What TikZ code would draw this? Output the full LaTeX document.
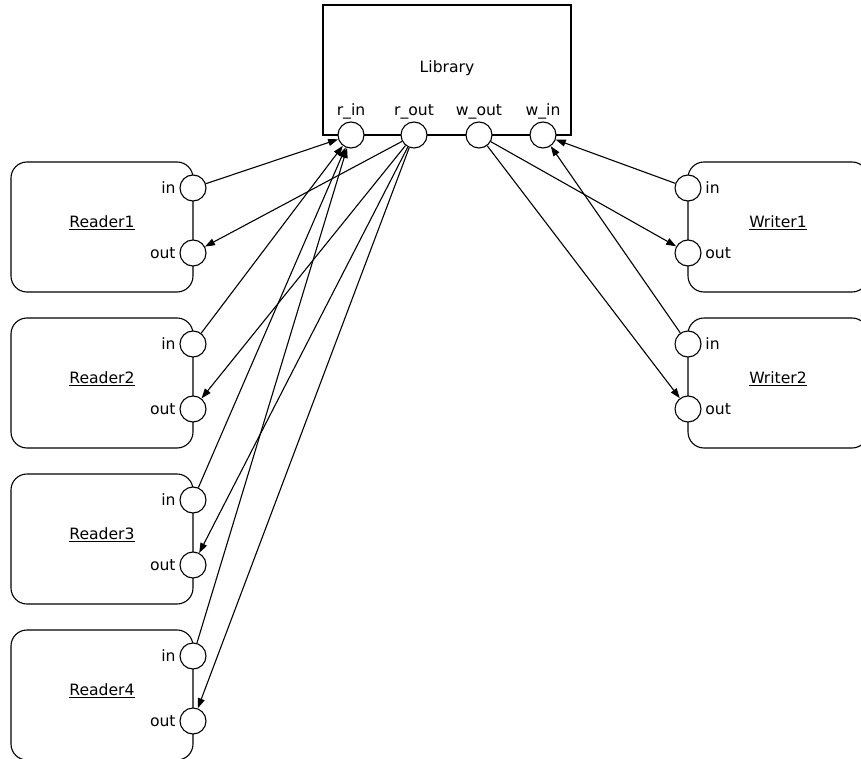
\documentclass[tikz,border=0pt]{standalone}
\usepackage{fontspec}
\setmainfont{DejaVu Sans}
\usetikzlibrary{arrows.meta}
\newcommand\ulabel[1]{\setbox0=\hbox{#1}\vtop{\copy0\kern1pt\hrule height 1.8pt width \wd0}}
\tikzset{
  port/.style={draw,circle,fill=white,minimum size=26pt,inner sep=0pt},
  box/.style={draw,rounded corners=16pt}
}
\begin{document}
\begin{tikzpicture}[x=1pt,y=-1pt,>={Triangle[length=10pt,width=7pt]},line width=1.1pt,
    font=\fontsize{15.6pt}{18pt}\selectfont]
  \clip (0,0) rectangle (861,759);
  % library
  \draw (323,5) rectangle (571,135);
  \node (lib) at (447,68) {Library};
  \foreach \n/\x/\t in {lrin/351/r\_in,lrout/414/r\_out,lwout/479/w\_out,lwin/543/w\_in}
    \node [port,label={[inner sep=2pt]above:\t}] (\n) at (\x,135) {};
  % readers
  \foreach \i in {1,...,4} {
    \pgfmathsetmacro\ty{162+156*(\i-1)}
    \draw [box] (11,\ty) rectangle (193,\ty+130);
    \node (reader\i) at (102,\ty+61) {\ulabel{Reader\i}};
    \node [port,label=left:in] (rin\i) at (193,\ty+26) {};
    \node [port,label=left:out] (rout\i) at (193,\ty+91) {};
  }
  % writers
  \foreach \i in {1,2} {
    \pgfmathsetmacro\ty{162+156*(\i-1)}
    \draw [box] (688,\ty) rectangle (868,\ty+130);
    \node (writer\i) at (778,\ty+61) {\ulabel{Writer\i}};
    \node [port,label=right:in] (win\i) at (688,\ty+26) {};
    \node [port,label=right:out] (wout\i) at (688,\ty+91) {};
  }
  % connectors
  \foreach \i in {1,...,4} {
    \draw [->] (rin\i) -- (lrin);
    \draw [->] (lrout) -- (rout\i);
  }
  \foreach \i in {1,2} {
    \draw [->] (win\i) -- (lwin);
    \draw [->] (lwout) -- (wout\i);
  }
\end{tikzpicture}
\end{document}
